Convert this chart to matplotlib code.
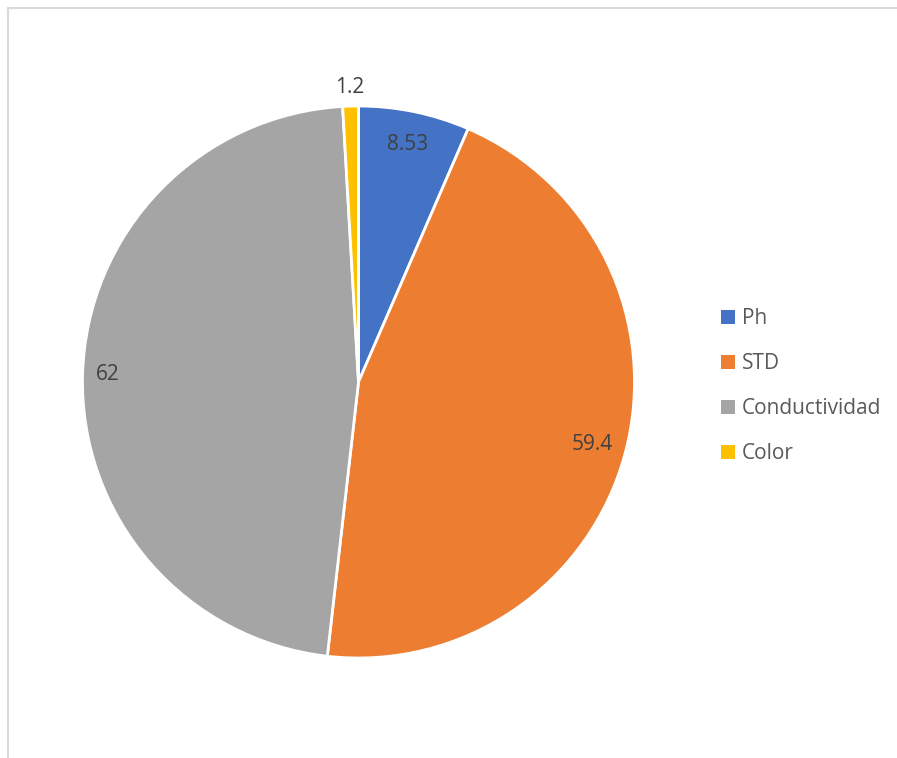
import matplotlib
matplotlib.use("Agg")
import matplotlib.pyplot as plt
from matplotlib.patches import Patch
from matplotlib.lines import Line2D
import numpy as np

categories = ["Ph", "STD", "Conductividad", "Color"]
values = [8.53, 59.4, 62, 1.2]
value_labels = ["8.53", "59.4", "62", "1.2"]
colors = ["#4472C4", "#ED7D31", "#A5A5A5", "#FFC000"]
label_dist = [0.88, 0.877, 0.91, 1.066]

W, H = 897, 758
fig = plt.figure(figsize=(W / 100, H / 100), dpi=100)
plt.rcParams['font.family'] = ['Open Sans', 'DejaVu Sans']

# border: only top and left edges visible (chart area clipped at right/bottom)
bx, by = 7.5 / W, 1 - 7.5 / H
fig.lines.append(Line2D([bx, 1.0], [by, by], transform=fig.transFigure,
                        color="#D9D9D9", linewidth=1.5))
fig.lines.append(Line2D([bx, bx], [0.0, by], transform=fig.transFigure,
                        color="#D9D9D9", linewidth=1.5))

cx, cy, R = 358.5, 382, 276
ax = fig.add_axes([(cx - R) / W, (H - cy - R) / H, 2 * R / W, 2 * R / H])
wedges, _ = ax.pie(values, colors=colors, startangle=90, counterclock=False, radius=1,
                   wedgeprops=dict(edgecolor="white", linewidth=2))
ax.set_xlim(-1, 1)
ax.set_ylim(-1, 1)
ax.set_aspect("equal")
ax.axis("off")

for w, lab, d in zip(wedges, value_labels, label_dist):
    ang = np.deg2rad((w.theta1 + w.theta2) / 2)
    ax.text(d * np.cos(ang), d * np.sin(ang), lab, ha="center", va="center",
            fontsize=15, color="#404040")

handles = [Patch(facecolor=c, edgecolor="none") for c in colors]
fig.legend(handles, categories, loc="upper left", bbox_to_anchor=(711 / W, 1 - 298 / H),
           frameon=False, fontsize=15, labelcolor="#595959", handlelength=0.67,
           handleheight=0.67, handletextpad=0.3, labelspacing=1.15, borderpad=0)

fig.savefig("out.png", dpi=100)
